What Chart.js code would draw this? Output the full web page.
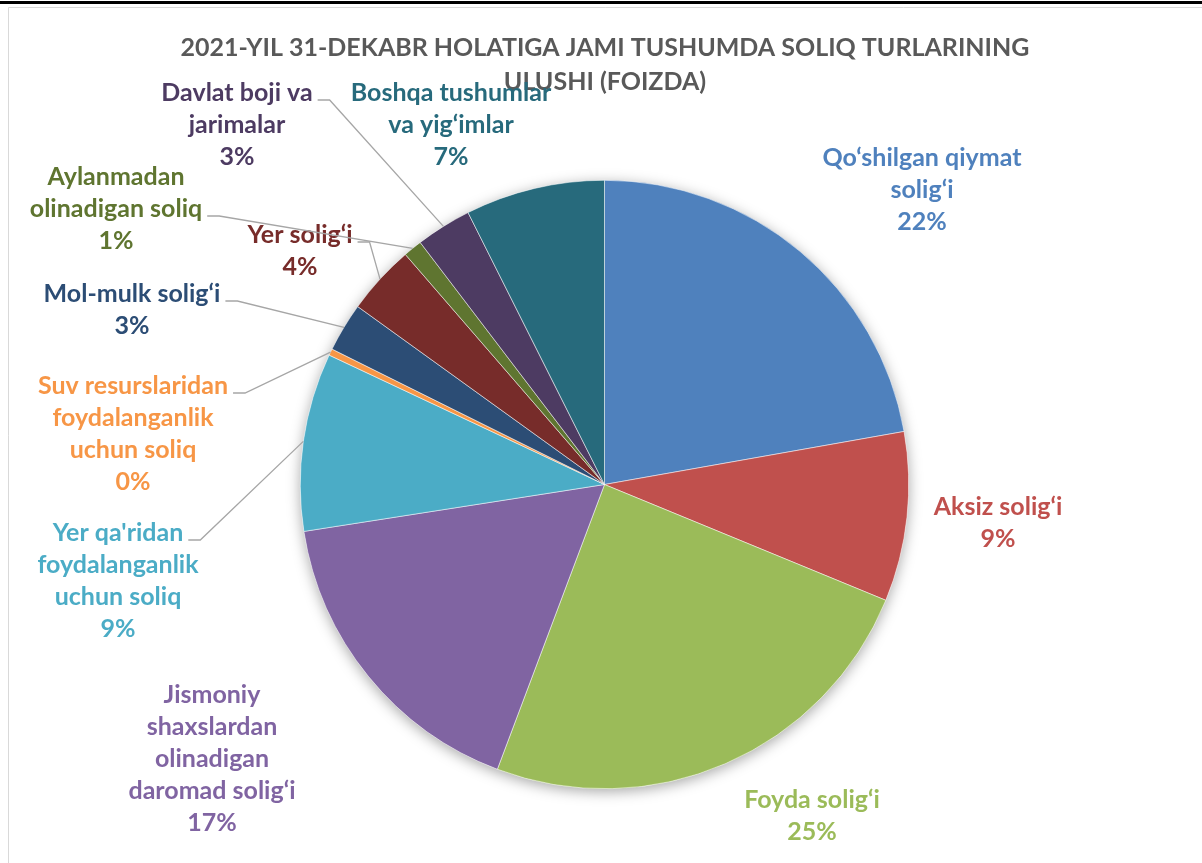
<!DOCTYPE html>
<html>
<head>
<meta charset="utf-8">
<script src="https://cdn.jsdelivr.net/npm/chart.js@4.4.1/dist/chart.umd.min.js"></script>
<style>
  body { margin: 0; background: #fff; }
  canvas { display: block; }
</style>
</head>
<body>
<canvas id="pieChart" width="1202" height="863"></canvas>
<script>
// categories in drawing order (clockwise from 12 o'clock)
const categories = [
  'Qo‘shilgan qiymat\nsolig‘i',
  'Aksiz solig‘i',
  'Foyda solig‘i',
  'Jismoniy\nshaxslardan\nolinadigan\ndaromad solig‘i',
  'Yer qa\'ridan\nfoydalanganlik\nuchun soliq',
  'Suv resurslaridan\nfoydalanganlik\nuchun soliq',
  'Mol-mulk solig‘i',
  'Yer solig‘i',
  'Aylanmadan\nolinadigan soliq',
  'Davlat boji va\njarimalar',
  'Boshqa tushumlar\nva yig‘imlar'
];
const shares = [22.2, 9.0, 24.5, 16.8, 9.45, 0.35, 2.6, 3.7, 1.0, 2.95, 7.4];
const colors = ['#4F81BD', '#C0504D', '#9BBB59', '#8064A2', '#4BACC6', '#F79646',
                '#2C4D75', '#772C2A', '#5F7530', '#4D3B62', '#276A7C'];
const titleLines = ['2021-YIL 31-DEKABR HOLATIGA JAMI TUSHUMDA SOLIQ TURLARINING', 'ULUSHI (FOIZDA)'];

// label placement: text block centre x, first line y, leader line anchor (line index) or -1
const labelLayout = [
  { x: 922, y: 158, leader: -1 },
  { x: 998, y: 507, leader: -1 },
  { x: 812, y: 800, leader: -1 },
  { x: 212, y: 695, leader: -1 },
  { x: 118, y: 533, leader: 0 },
  { x: 133, y: 386, leader: 0 },
  { x: 132, y: 294, leader: 0 },
  { x: 300, y: 235, leader: 0 },
  { x: 116, y: 177, leader: 1 },
  { x: 237, y: 93, leader: 0 },
  { x: 451, y: 93, leader: -1 }
];
const FONT = 'bold 25px Lato, "Open Sans", sans-serif';
const LINE_H = 32;

const framePlugin = {
  id: 'frame',
  beforeDraw(chart) {
    const c = chart.ctx;
    c.save();
    c.fillStyle = '#fff';
    c.fillRect(0, 0, chart.width, chart.height);
    c.fillStyle = '#000';
    c.fillRect(0, 1, chart.width, 3);
    c.strokeStyle = '#D9D9D9';
    c.lineWidth = 1;
    c.beginPath();
    c.moveTo(8.5, chart.height);
    c.lineTo(8.5, 7.5);
    c.lineTo(chart.width, 7.5);
    c.stroke();
    // title
    c.fillStyle = '#595959';
    c.font = 'bold 25px Lato, "Open Sans", sans-serif';
    c.textAlign = 'center';
    c.textBaseline = 'middle';
    c.fillText(titleLines[0], 605, 48);
    c.fillText(titleLines[1], 605, 82);
    c.restore();
  },
  beforeDatasetsDraw(chart) {
    // soft shadow under the whole pie
    const arc = chart.getDatasetMeta(0).data[0];
    const c = chart.ctx;
    c.save();
    c.shadowColor = 'rgba(0,0,0,0.35)';
    c.shadowBlur = 14;
    c.shadowOffsetY = 3;
    c.fillStyle = '#fff';
    c.beginPath();
    c.arc(arc.x, arc.y, arc.outerRadius, 0, Math.PI * 2);
    c.fill();
    c.restore();
  }
};

const labelPlugin = {
  id: 'outLabels',
  afterDatasetsDraw(chart) {
    const c = chart.ctx;
    const meta = chart.getDatasetMeta(0);
    const total = shares.reduce((a, b) => a + b, 0);
    c.save();
    c.font = FONT;
    c.textAlign = 'center';
    c.textBaseline = 'middle';
    meta.data.forEach((arc, i) => {
      const lay = labelLayout[i];
      const lines = categories[i].split('\n');
      lines.push(Math.round(shares[i] / total * 100) + '%');
      if (lay.leader >= 0) {
        const mid = (arc.startAngle + arc.endAngle) / 2;
        const ex = arc.x + Math.cos(mid) * arc.outerRadius;
        const ey = arc.y + Math.sin(mid) * arc.outerRadius;
        const ly = lay.y + lay.leader * LINE_H + 7;
        const lx = lay.x + c.measureText(lines[lay.leader]).width / 2 + 5;
        c.strokeStyle = '#A6A6A6';
        c.lineWidth = 1.3;
        c.beginPath();
        c.moveTo(lx, ly);
        c.lineTo(lx + 12, ly);
        c.lineTo(ex, ey);
        c.stroke();
      }
      c.fillStyle = colors[i];
      lines.forEach((t, k) => c.fillText(t, lay.x, lay.y + k * LINE_H));
    });
    c.restore();
  }
};

new Chart(document.getElementById('pieChart').getContext('2d'), {
  type: 'pie',
  data: {
    labels: categories,
    datasets: [{
      data: shares,
      backgroundColor: colors,
      borderColor: '#ffffff',
      borderWidth: 0.5
    }]
  },
  options: {
    responsive: false,
    animation: false,
    layout: { padding: { left: 300, right: 293, top: 180, bottom: 74 } },
    plugins: {
      legend: { display: false },
      tooltip: { enabled: false },
      title: { display: false }
    }
  },
  plugins: [framePlugin, labelPlugin]
});
</script>
</body>
</html>
